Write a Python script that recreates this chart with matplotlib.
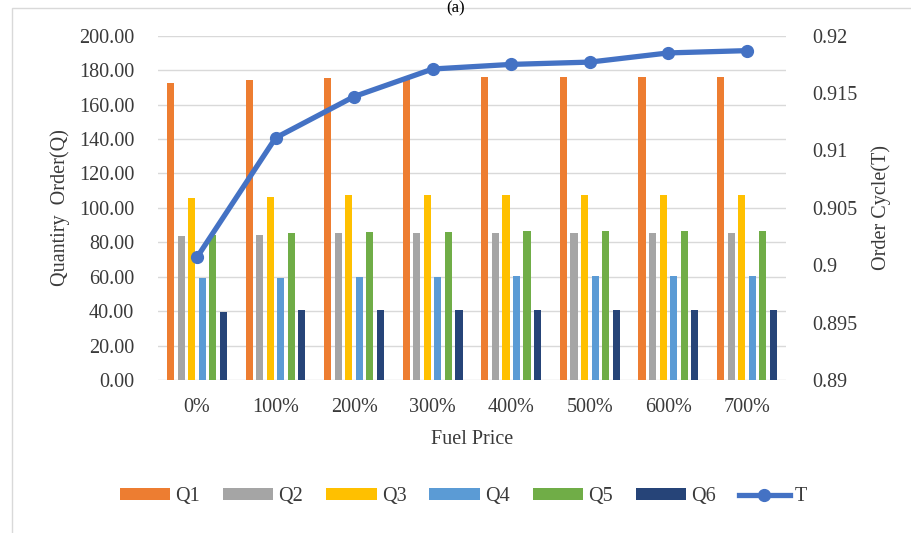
import numpy as np
import matplotlib.pyplot as plt
from matplotlib.patches import Rectangle
from matplotlib.ticker import FuncFormatter

plt.rcParams['font.family'] = ['Liberation Serif', 'DejaVu Serif']

# Fuel price scenarios
prices = ['0%', '100%', '200%', '300%', '400%', '500%', '600%', '700%']

# Order quantities for each product
q1 = [172.7, 174.4, 175.2, 175.5, 176.0, 176.0, 176.0, 176.0]
q2 = [83.5, 84.5, 85.2, 85.3, 85.4, 85.4, 85.4, 85.4]
q3 = [105.5, 106.4, 107.3, 107.4, 107.4, 107.4, 107.4, 107.4]
q4 = [59.0, 59.2, 60.0, 60.1, 60.2, 60.2, 60.2, 60.2]
q5 = [84.5, 85.4, 86.1, 86.2, 86.4, 86.4, 86.4, 86.4]
q6 = [39.8, 40.6, 40.7, 40.8, 40.8, 40.8, 40.8, 40.8]

# Order cycle
t = [0.9007, 0.9111, 0.9147, 0.9171, 0.9175, 0.9177, 0.9185, 0.9187]

series = [('Q1', q1, '#ED7D31'), ('Q2', q2, '#A5A5A5'), ('Q3', q3, '#FFC000'),
          ('Q4', q4, '#5B9BD5'), ('Q5', q5, '#70AD47'), ('Q6', q6, '#264478')]

fs = 14.5
tc = '#3A3A3A'

fig = plt.figure(figsize=(9.12, 5.33), dpi=100)
ax = fig.add_axes([0.173, 0.287, 0.689, 0.646])

x = np.arange(len(prices))
pitch = 0.134
width = 0.09
for i, (name, vals, color) in enumerate(series):
    ax.bar(x + (i - 2.5) * pitch, vals, width, color=color, label=name, zorder=2)

ax.set_xlim(-0.5, len(prices) - 0.5)
ax.set_ylim(0, 200)
ax.set_yticks(np.arange(0, 201, 20))
ax.yaxis.set_major_formatter(FuncFormatter(lambda v, p: f'{v:.2f}'))
ax.set_xticks(x)
ax.set_xticklabels(prices)
ax.grid(axis='y', color='#D9D9D9', linewidth=1, zorder=0)
ax.set_axisbelow(True)
for s in ax.spines.values():
    s.set_visible(False)
ax.tick_params(length=0, labelsize=fs, colors=tc)
ax.tick_params(axis='y', pad=17)
ax.tick_params(axis='x', pad=13)
ax.set_xlabel('Fuel Price', fontsize=fs, color=tc, labelpad=9)
ax.set_ylabel('Quantiry  Order(Q)', fontsize=fs, color=tc, labelpad=6)

ax2 = ax.twinx()
ax2.plot(x, t, color='#4472C4', linewidth=3.8, marker='o', markersize=8.5,
         label='T', zorder=3)
ax2.set_ylim(0.89, 0.92)
ax2.set_yticks(np.linspace(0.89, 0.92, 7))
ax2.yaxis.set_major_formatter(FuncFormatter(lambda v, p: f'{v:g}'))
for s in ax2.spines.values():
    s.set_visible(False)
ax2.tick_params(length=0, labelsize=fs, colors=tc, pad=19)
ax2.set_ylabel('Order Cycle(T)', fontsize=fs, color=tc, labelpad=10)

# Legend along the bottom
h1, l1 = ax.get_legend_handles_labels()
h2, l2 = ax2.get_legend_handles_labels()
fig.legend(h1 + h2, l1 + l2, loc='center', bbox_to_anchor=(0.508, 0.068),
           ncol=7, frameon=False, fontsize=fs, handlelength=2.5,
           handleheight=0.5, columnspacing=1.15, handletextpad=0.25,
           labelcolor=tc)

# Panel label and chart border
fig.text(0.5, 1.0, '(a)', ha='center', va='top', fontsize=12)
fig.patches.append(Rectangle((0.013, -0.01), 1.0, 0.995, transform=fig.transFigure,
                             fill=False, edgecolor='#D9D9D9', linewidth=1))

fig.savefig('out.png', dpi=100, facecolor='white')
